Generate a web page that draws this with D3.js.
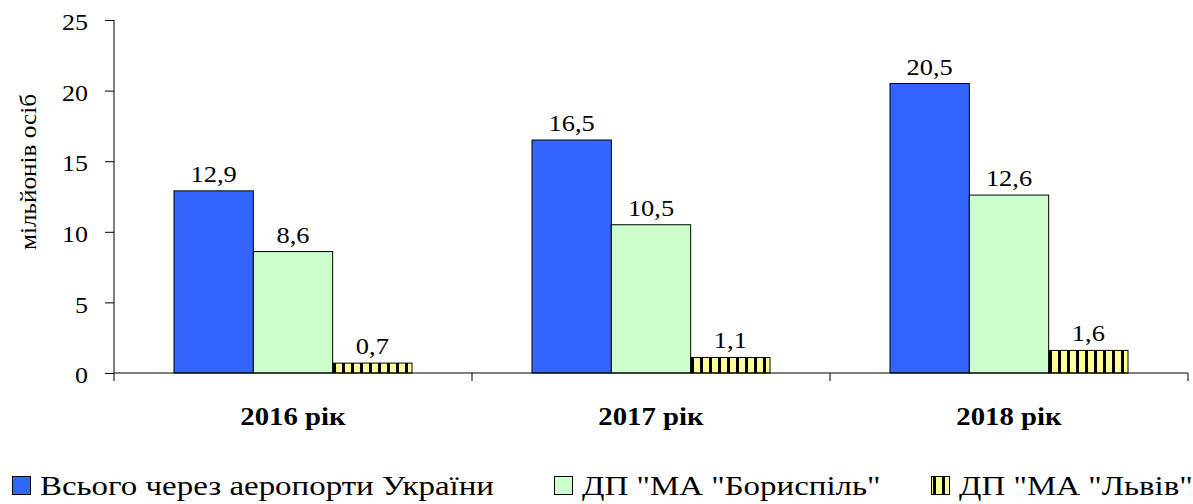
<!DOCTYPE html>
<meta charset="utf-8">
<head>
<style>
  body { margin: 0; background: #fff; }
</style>
</head>
<body>
<div class="chart"></div>
<script src="https://d3js.org/d3.v7.min.js" charset="utf-8"></script>
<script>
const years = ['2016 рік', '2017 рік', '2018 рік'];
const seriesNames = ['Всього через аеропорти України', 'ДП "МА "Бориспіль"', 'ДП "МА "Львів"'];
const total = [12.9, 16.5, 20.5];
const boryspil = [8.6, 10.5, 12.6];
const lviv = [0.7, 1.1, 1.6];
const yTicks = [0, 5, 10, 15, 20, 25];

const series = [total, boryspil, lviv];
const fills = ['#3366ff', '#ccffcc', 'url(#stripes)'];
const FONT = "'Liberation Serif', 'Times New Roman', serif";

const width = 1193, height = 504;
const margin = { top: 20, right: 5, bottom: 131, left: 114 };
const w = width - margin.left - margin.right;
const h = height - margin.top - margin.bottom;

// the original text is a bit wider than Times, so widen each label
function stretch(sel, k) {
  sel.each(function() {
    const len = this.getComputedTextLength();
    d3.select(this).attr('textLength', len * k).attr('lengthAdjust', 'spacingAndGlyphs');
  });
}

const svg = d3.select('.chart').append('svg')
  .attr('width', width)
  .attr('height', height)
  .attr('font-family', FONT);

const defs = svg.append('defs');
const pat = defs.append('pattern')
  .attr('id', 'stripes')
  .attr('patternUnits', 'userSpaceOnUse')
  .attr('width', 9).attr('height', 9);
pat.append('rect').attr('width', 9).attr('height', 9).attr('fill', '#ffff99');
pat.append('rect').attr('x', 6).attr('width', 3).attr('height', 9).attr('fill', '#000');

const g = svg.append('g')
  .attr('transform', `translate(${margin.left},${margin.top})`);

const x0 = d3.scaleBand().domain(years).range([0, w]);
const x1 = d3.scaleBand().domain(d3.range(3)).range([0, 238]);
const y = d3.scaleLinear().domain([0, 25]).range([h, 0]);

// bars
years.forEach((yr, i) => {
  const grp = g.append('g')
    .attr('transform', `translate(${x0(yr) + (x0.bandwidth() - 238) / 2},0)`);
  series.forEach((s, k) => {
    grp.append('rect')
      .attr('x', x1(k))
      .attr('y', y(s[i]))
      .attr('width', x1.bandwidth())
      .attr('height', h - y(s[i]))
      .attr('fill', fills[k])
      .attr('stroke', '#000')
      .attr('stroke-width', 1);
    grp.append('text')
      .attr('class', 'val')
      .attr('x', x1(k) + x1.bandwidth() / 2)
      .attr('y', y(s[i]) - 9)
      .attr('text-anchor', 'middle')
      .attr('font-size', 24)
      .text(String(s[i]).replace('.', ','));
  });
});
stretch(g.selectAll('.val'), 1.1);

// y axis
const yAxis = g.append('g')
  .call(d3.axisLeft(y).tickValues(yTicks).tickSize(9).tickPadding(17))
  .attr('font-family', FONT)
  .attr('font-size', 24);
yAxis.select('.domain').attr('d', `M0,0V${h}`).attr('stroke', '#000');
yAxis.selectAll('text').attr('fill', '#000').attr('dy', '0.4em');
yAxis.selectAll('line').attr('stroke', '#000');
stretch(yAxis.selectAll('text'), 1.08);

// x axis
const xAxis = g.append('g')
  .attr('transform', `translate(0,${h})`);
xAxis.append('line').attr('x1', 0).attr('x2', w).attr('stroke', '#000');
xAxis.selectAll('.tk').data([...years.map(d => x0(d)), w]).enter()
  .append('line')
  .attr('x1', d => d).attr('x2', d => d)
  .attr('y1', 0).attr('y2', 8)
  .attr('stroke', '#000');
xAxis.selectAll('.lbl').data(years).enter()
  .append('text')
  .attr('class', 'lbl')
  .attr('x', d => x0(d) + x0.bandwidth() / 2)
  .attr('y', 52)
  .attr('text-anchor', 'middle')
  .attr('font-size', 25)
  .attr('font-weight', 'bold')
  .text(d => d);
stretch(xAxis.selectAll('.lbl'), 1.15);

// y label
const yLabel = svg.append('text')
  .attr('transform', 'translate(36,172) rotate(-90)')
  .attr('text-anchor', 'middle')
  .attr('font-size', 24)
  .text('мільйонів осіб');
stretch(yLabel, 1.05);

// legend
const legendX = [12, 554, 931];
const legend = svg.append('g');
seriesNames.forEach((name, k) => {
  legend.append('rect')
    .attr('x', legendX[k] + 0.5)
    .attr('y', 476.5)
    .attr('width', 18).attr('height', 18)
    .attr('fill', fills[k])
    .attr('stroke', '#000');
  legend.append('text')
    .attr('class', 'leg')
    .attr('x', legendX[k] + 28)
    .attr('y', 495)
    .attr('font-size', 27)
    .text(name);
});
stretch(legend.selectAll('.leg'), 1.22);
</script>
</body>
